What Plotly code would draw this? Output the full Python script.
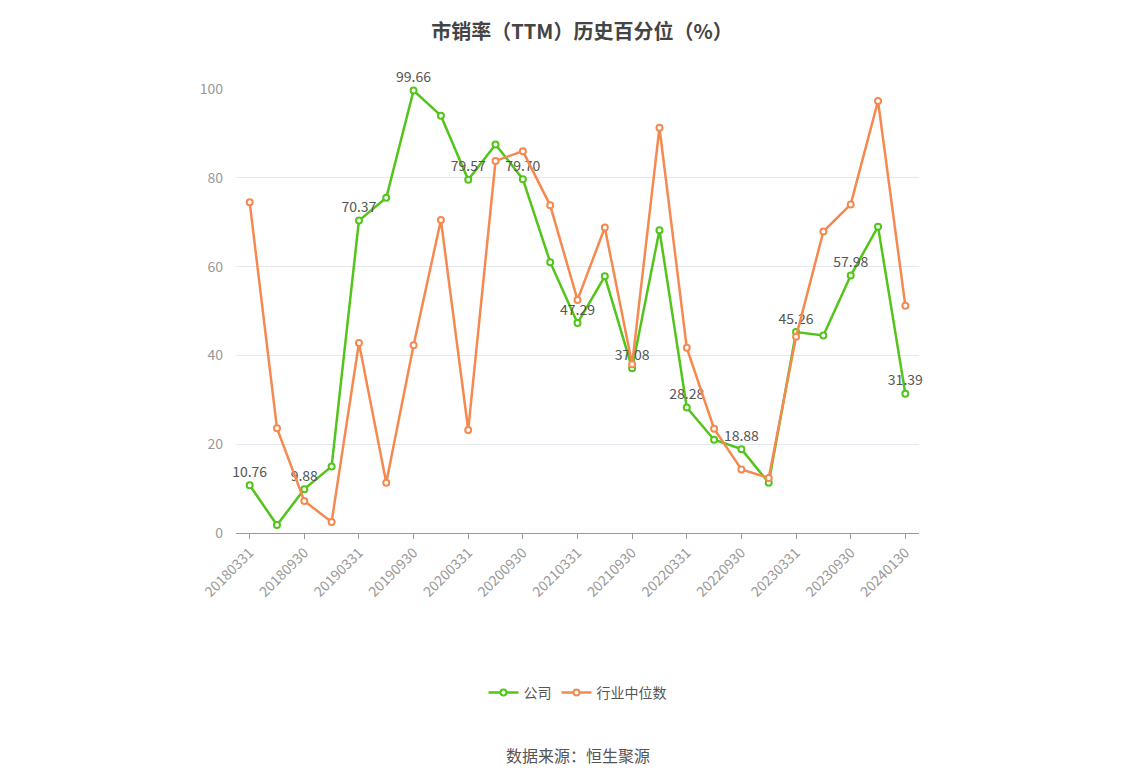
import plotly.graph_objects as go

dates = ["20180331","20180630","20180930","20181231","20190331","20190630","20190930","20191231",
         "20200331","20200630","20200930","20201231","20210331","20210630","20210930","20211231",
         "20220331","20220630","20220930","20221231","20230331","20230630","20230930","20231231","20240130"]
company = [10.76,1.8,9.88,15.0,70.37,75.5,99.66,94.0,79.57,87.5,79.70,61.0,47.29,57.8,37.08,68.2,
           28.28,21.0,18.88,11.3,45.26,44.5,57.98,69.0,31.39]
industry = [74.5,23.6,7.2,2.5,42.8,11.3,42.3,70.5,23.2,83.8,86.0,73.8,52.5,68.8,38.0,91.3,
            41.7,23.5,14.3,12.4,44.2,67.9,74.0,97.3,51.2]
labels = [f"{v:.2f}" if i % 2 == 0 else "" for i, v in enumerate(company)]

fig = go.Figure()
fig.add_trace(go.Scatter(x=dates, y=company, name="公司", mode="lines+markers+text",
    line=dict(color="#52c41a", width=2.5),
    marker=dict(size=6, color="white", line=dict(color="#52c41a", width=2)),
    text=labels, textposition="top center", textfont=dict(size=14, color="#555"),
    cliponaxis=False))
fig.add_trace(go.Scatter(x=dates, y=industry, name="行业中位数", mode="lines+markers",
    line=dict(color="#f5894f", width=2.5),
    marker=dict(size=6, color="white", line=dict(color="#f5894f", width=2)),
    cliponaxis=False))

fig.update_layout(
    width=1148, height=776, paper_bgcolor="white", plot_bgcolor="white",
    margin=dict(l=228, r=237, t=81, b=251),
    font=dict(family="Noto Sans CJK SC", color="#999"),
    title=dict(text="<b>市销率（TTM）历史百分位（%）</b>", x=0.5, y=0.978, xanchor="center",
               font=dict(size=20, color="#444", family="Noto Sans CJK SC")),
    showlegend=True,
    legend=dict(orientation="h", x=0.5, xanchor="center", y=-0.36, yanchor="middle",
                font=dict(size=14, color="#555")),
)
fig.layout.annotations = [dict(text="数据来源：恒生聚源", xref="paper", yref="paper", x=0.5, y=-0.50,
                               yanchor="middle", showarrow=False, font=dict(size=16, color="#555"))]
fig.update_xaxes(type="category", tickvals=dates[::2], ticktext=dates[::2], tickangle=-45,
                 showline=True, linecolor="#999", ticks="outside", tickcolor="#999", ticklen=5,
                 tickfont=dict(size=14, color="#999"), showgrid=False, range=[-0.5, 24.5],
                 automargin=False)
fig.update_yaxes(range=[0, 100], dtick=20, gridcolor="#e3e7ef", zeroline=False,
                 tickfont=dict(size=14, color="#999"), automargin=False, ticklabelstandoff=12)
fig.write_html("out.html")
